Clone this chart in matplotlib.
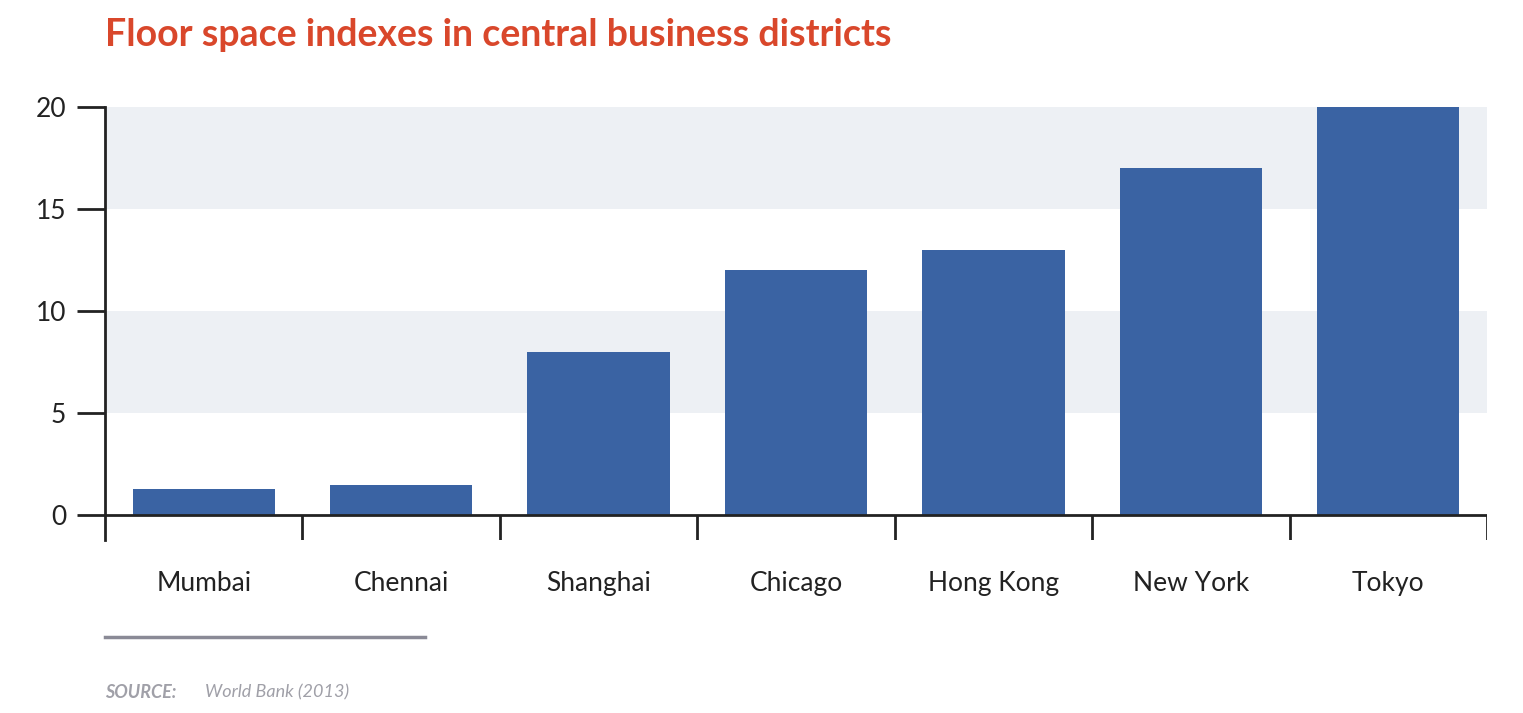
import matplotlib
matplotlib.use("Agg")
import matplotlib.pyplot as plt

cities = ["Mumbai", "Chennai", "Shanghai", "Chicago", "Hong Kong", "New York", "Tokyo"]
values = [1.3, 1.5, 8, 12, 13, 17, 20]
yticks = [0, 5, 10, 15, 20]

plt.rcParams['font.family'] = ['Lato', 'DejaVu Sans']
fig = plt.figure(figsize=(15.23, 7.13), dpi=100)
ax = fig.add_axes([105/1523, 1-540/713, (1487-105)/1523, (540-107)/713])
n = len(cities)
ax.set_xlim(-0.5, n-0.5)
ax.set_ylim(-1.2, 20)
for lo, hi in [(5, 10), (15, 20)]:
    ax.axhspan(lo, hi, color="#edf0f4", zorder=0, lw=0)
ax.bar(range(n), values, width=0.72, color="#3a63a3", zorder=2)
ax.axhline(0, color="#222222", lw=2, zorder=3)
ax.vlines([i-0.5 for i in range(1, n+1)], -1.2, 0, color="#222222", lw=2, zorder=3)
for s in ["top", "right", "bottom"]:
    ax.spines[s].set_visible(False)
ax.spines["left"].set_linewidth(2)
ax.spines["left"].set_color("#222222")
ax.set_yticks(yticks)
ax.set_yticklabels([str(v) for v in yticks], fontsize=19, color="#222222")
ax.tick_params(axis="y", length=20, width=2, color="#222222", pad=8)
ax.set_xticks(range(n))
ax.set_xticklabels(cities, fontsize=19, color="#222222")
ax.tick_params(axis="x", length=0, pad=22)

fig.text(105/1523, 1-35/713, "Floor space indexes in central business districts",
         fontsize=27, fontweight="bold", color="#d9472b", va="center", ha="left")
fig.add_artist(plt.Line2D([105/1523, 425/1523], [1-637/713]*2, color="#8a8a96", lw=2.5))
fig.text(105/1523, 1-692/713, "SOURCE:", fontsize=13, fontweight="bold", style="italic",
         color="#a0a0a8", va="center", ha="left")
fig.text(205/1523, 1-692/713, "World Bank (2013)", fontsize=13, style="italic",
         color="#a0a0a8", va="center", ha="left")
fig.savefig("out.png", dpi=100)
